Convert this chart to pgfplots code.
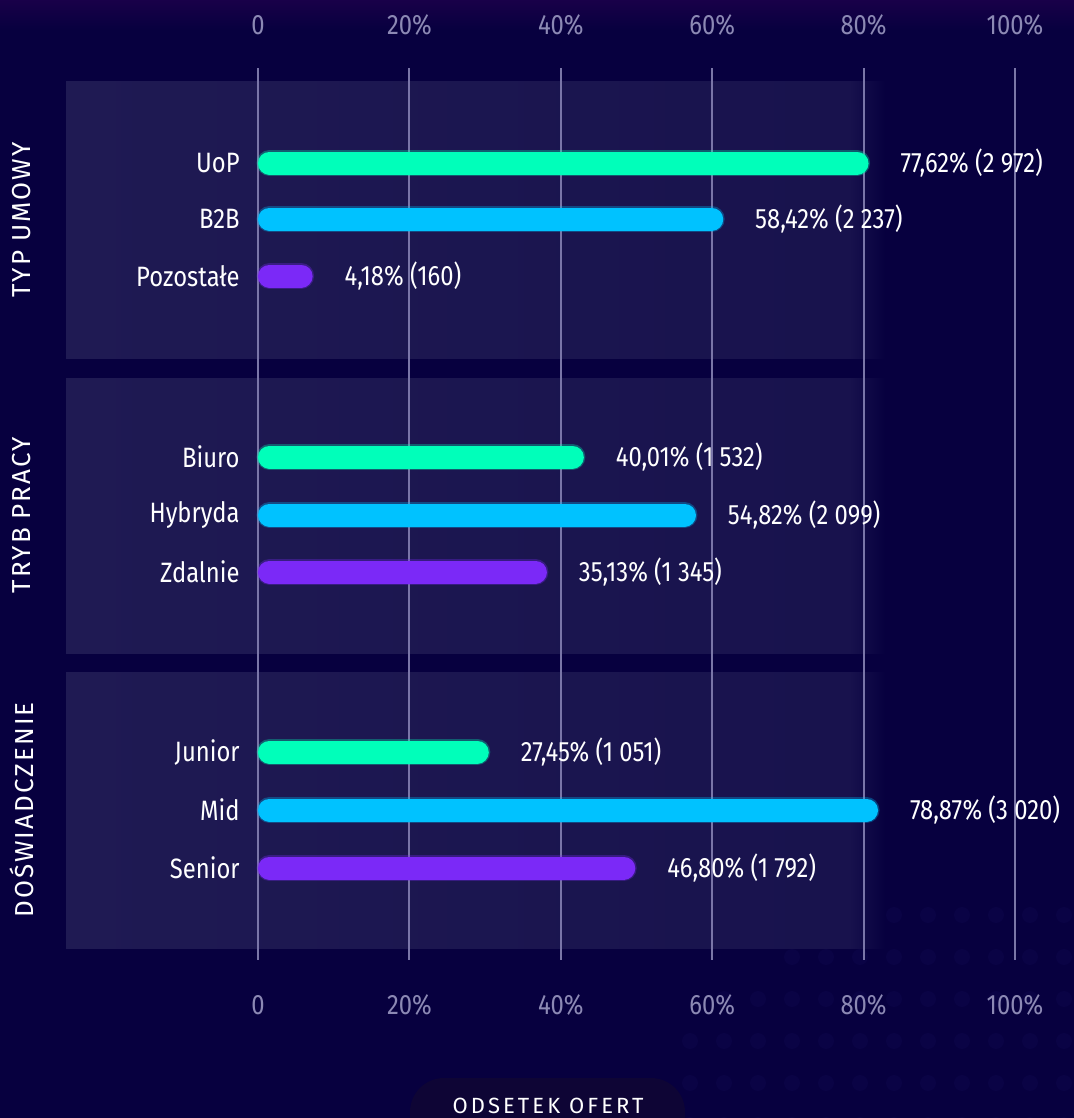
\documentclass[border=0pt]{standalone}
\usepackage{pgfplots}
\pgfplotsset{compat=1.18}
\usepackage{fontspec}
\setmainfont{Fira Sans}[FakeStretch=0.85]
\newfontfamily\capsfont{Fira Sans}[LetterSpace=8]
\newfontfamily\pillfont{Fira Sans}[LetterSpace=14]

\definecolor{bg}{HTML}{07003F}
\definecolor{dot}{HTML}{0A0345}
\definecolor{panel}{HTML}{1F1A53}
\definecolor{gridc}{HTML}{7A76A8}
\definecolor{tickc}{HTML}{8C89B4}
\definecolor{cgreen}{HTML}{00FFBA}
\definecolor{ccyan}{HTML}{00C2FF}
\definecolor{cpurple}{HTML}{7B29F7}
\definecolor{pill}{HTML}{0E0535}

\pgfplotsset{
  frame/.style={
    at={(129pt,-480pt)}, anchor=south west, scale only axis,
    width=378.5pt, height=446pt,
    xmin=0, xmax=100, ymin=68, ymax=960, y dir=reverse,
    axis line style={draw=none}, major tick length=0pt,
    xtick={0,20,...,100},
    xticklabels={0,20\%,40\%,60\%,80\%,100\%},
    clip=false,
  },
  bar/.style={xcomb, no marks, line width=11.5pt, line cap=round, draw=#1, xshift=5.75pt},
  glow/.style={xcomb, no marks, line width=13pt, line cap=round, draw=#1, draw opacity=0.3, xshift=5.75pt},
  vals/.style={nodes near coords, point meta=explicit symbolic,
    every node near coord/.append style={anchor=west, inner sep=0pt, xshift=16pt,
      text=white, font=\fontsize{14}{16}\selectfont}},
}

\begin{document}
\begin{tikzpicture}[x=0.5pt, y=-0.5pt]
% background, dots and panels
\fill[bg] (0,0) rectangle (1074,1118);
\shade[top color=bg!85!violet, bottom color=bg] (0,0) rectangle (1074,30);
\foreach \i in {0,...,11} {
  \foreach \j in {0,...,5} {
    \pgfmathsetmacro\dx{690+34*\i}
    \pgfmathsetmacro\dy{915+42*\j}
    \pgfmathparse{(\dx+\dy>1720)?1:0}
    \ifnum\pgfmathresult=1 \fill[dot] (\dx,\dy) circle (8); \fi
  }
}
\foreach \a/\b in {82/358, 378/653, 672/948} {
  \shade[left color=panel, right color=panel!70!bg] (66,\a) rectangle (850,\b);
  \shade[left color=panel!70!bg, right color=bg] (849.5,\a) rectangle (885,\b);
}
\node[rotate=90, text=white, font=\capsfont\fontsize{13}{15}\selectfont] at (22,220) {TYP UMOWY};
\node[rotate=90, text=white, font=\capsfont\fontsize{13}{15}\selectfont] at (22,515) {TRYB PRACY};
\node[rotate=90, text=white, font=\capsfont\fontsize{13}{15}\selectfont] at (22,810) {DOŚWIADCZENIE};
\fill[pill, rounded corners=17pt] (410,1078) rectangle (685,1170);
\node[text=white, font=\pillfont\fontsize{11}{13}\selectfont] at (548,1106) {ODSETEK OFERT};

% top tick labels
\begin{axis}[frame, ytick=\empty, xticklabel pos=upper,
  xticklabel style={anchor=center, yshift=21.5pt, text=tickc, font=\fontsize{14}{16}\selectfont}]
\end{axis}

% main axis
\begin{axis}[frame, xticklabel pos=lower,
  xmajorgrids, grid style={gridc, line width=1pt},
  xticklabel style={anchor=center, yshift=-22.5pt, text=tickc, font=\fontsize{14}{16}\selectfont},
  ytick={163,219,276,457,515,572,752,810,868},
  yticklabels={UoP,B2B\hspace{6pt},Pozostałe,Biuro,Hybryda,Zdalnie,Junior,Mid,Senior},
  yticklabel style={anchor=east, inner sep=0pt, xshift=-9pt, text=white, font=\fontsize{14}{16}\selectfont}]

\addplot[glow=cgreen] coordinates {(77.62,163) (40.01,457) (27.45,752)};
\addplot[glow=ccyan] coordinates {(58.42,219) (54.82,515) (78.87,810)};
\addplot[glow=cpurple] coordinates {(4.18,276) (35.13,572) (46.80,868)};

\addplot[bar=cgreen, vals] coordinates {
  (77.62,163) [77,62\% (2 972)]
  (40.01,457) [40,01\% (1 532)]
  (27.45,752) [27,45\% (1 051)]
};
\addplot[bar=ccyan, vals] coordinates {
  (58.42,219) [58,42\% (2 237)]
  (54.82,515) [54,82\% (2 099)]
  (78.87,810) [78,87\% (3 020)]
};
\addplot[bar=cpurple, vals] coordinates {
  (4.18,276) [4,18\% (160)]
  (35.13,572) [35,13\% (1 345)]
  (46.80,868) [46,80\% (1 792)]
};
\end{axis}
\pgfresetboundingbox
\useasboundingbox (0,0) rectangle (1074,1118);
\end{tikzpicture}
\end{document}
